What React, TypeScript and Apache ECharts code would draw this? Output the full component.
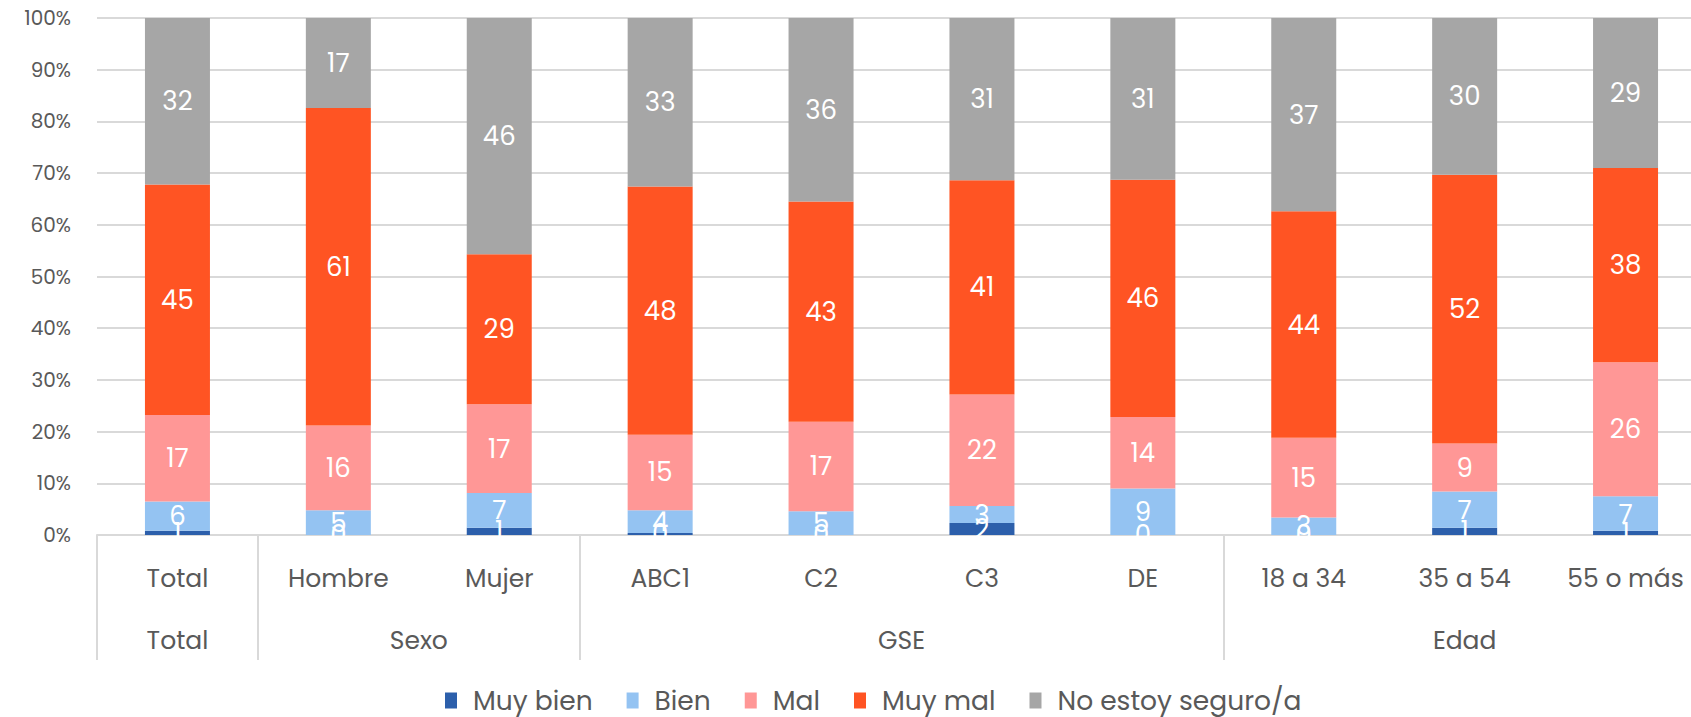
import React, { useEffect, useRef } from "react";
import * as echarts from "echarts";

const categories = ["Total", "Hombre", "Mujer", "ABC1", "C2", "C3", "DE", "18 a 34", "35 a 54", "55 o más"];
// half-band positions (21 points) for the group row
const groupSlots = ["", "Total", "", "", "Sexo", "", "", "", "", "", "GSE", "", "", "", "", "", "", "Edad", "", "", ""];
const dividerSlots = [0, 2, 6, 14, 20];

const muyBien = [0.8, 0, 1.4, 0.4, 0, 2.3, 0, 0, 1.4, 0.8];
const bien = [5.7, 4.8, 6.7, 4.4, 4.6, 3.3, 9.0, 3.4, 7.0, 6.7];
const mal = [16.7, 16.4, 17.2, 14.6, 17.3, 21.6, 13.8, 15.4, 9.3, 25.9];
const muyMal = [44.6, 61.4, 29.0, 48.0, 42.6, 41.4, 45.9, 43.8, 52.0, 37.6];
const noSeguro = [32.2, 17.4, 45.7, 32.6, 35.5, 31.4, 31.3, 37.4, 30.3, 29.0];

const seriesNames = ["Muy bien", "Bien", "Mal", "Muy mal", "No estoy seguro/a"];
const seriesData = [muyBien, bien, mal, muyMal, noSeguro];
const colors = ["#2C5FAB", "#94C3F2", "#FF9796", "#FF5423", "#A6A6A6"];
const yTicks = [0, 10, 20, 30, 40, 50, 60, 70, 80, 90, 100];

const FONT = "Poppins, 'Noto Sans', sans-serif";

export default function App() {
  const ref = useRef<HTMLDivElement>(null);
  useEffect(() => {
    if (!ref.current) return;
    const chart = echarts.init(ref.current, undefined, { renderer: "svg" });
    chart.setOption({
      animation: false,
      textStyle: { fontFamily: FONT },
      grid: { left: 97, top: 18, width: 1609, bottom: 182, containLabel: false },
      legend: {
        left: 440,
        top: 682,
        itemWidth: 12,
        itemHeight: 16,
        itemGap: 34,
        icon: "rect",
        textStyle: { fontSize: 26.5, lineHeight: 24, color: "#595959", fontFamily: FONT, padding: [0, 0, 0, 11] },
        data: seriesNames,
      },
      xAxis: [
        {
          type: "category",
          data: categories,
          axisLine: { show: true, lineStyle: { color: "#D9D9D9", width: 2 } },
          axisTick: { show: false },
          axisLabel: { fontSize: 25, color: "#595959", margin: 31, interval: 0, fontFamily: FONT },
          splitLine: { show: false },
        },
        {
          type: "category",
          data: groupSlots,
          boundaryGap: false,
          position: "bottom",
          axisLine: { show: false },
          axisTick: {
            show: true,
            length: 125,
            interval: (i: number) => dividerSlots.indexOf(i) >= 0,
            lineStyle: { color: "#D9D9D9", width: 2 },
          },
          axisLabel: { fontSize: 25, color: "#595959", margin: 93, interval: 0, fontFamily: FONT },
        },
      ],
      yAxis: {
        type: "value",
        min: yTicks[0],
        max: yTicks[yTicks.length - 1],
        interval: 10,
        axisLine: { show: false },
        axisTick: { show: false },
        axisLabel: { formatter: "{value}%", fontSize: 20, color: "#595959", margin: 26, fontFamily: FONT },
        splitLine: { lineStyle: { color: "#D9D9D9", width: 2 } },
      },
      series: seriesNames.map((name, si) => ({
        name,
        type: "bar",
        stack: "total",
        xAxisIndex: 0,
        barWidth: 65,
        data: seriesData[si],
        itemStyle: { color: colors[si] },
        label: {
          show: true,
          position: "inside",
          color: "#FFFFFF",
          fontSize: 26,
          fontFamily: FONT,
          formatter: (p: any) => String(Math.round(p.value)),
        },
      })),
    });
    return () => chart.dispose();
  }, []);
  return (
    <div style={{ position: "fixed", left: 0, top: 0, width: 1691, height: 717, overflow: "hidden", background: "#fff" }}>
      <div ref={ref} style={{ width: 1720, height: 717 }} />
    </div>
  );
}
